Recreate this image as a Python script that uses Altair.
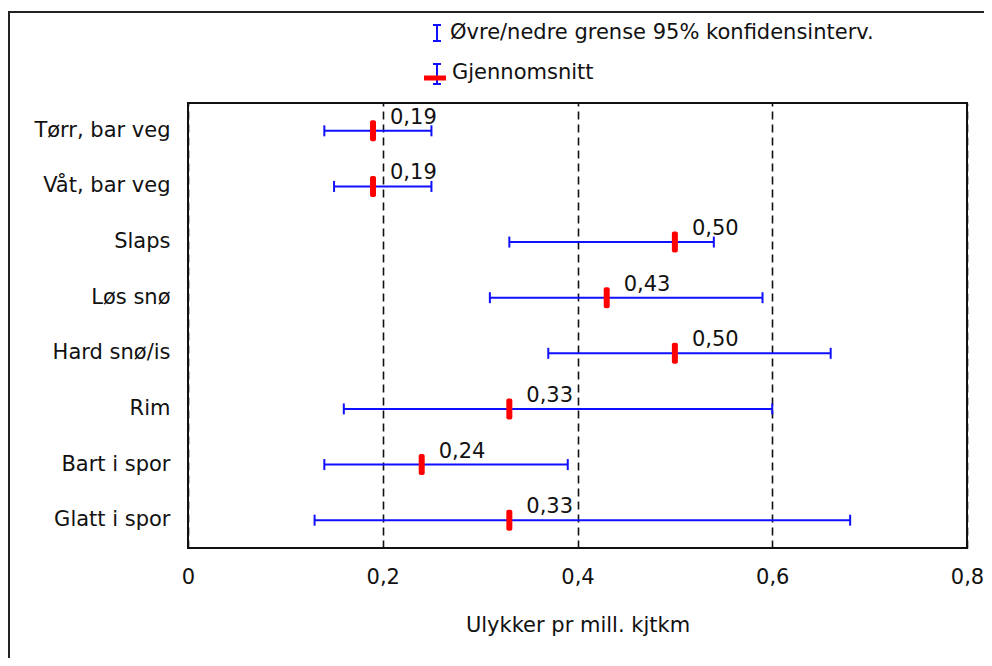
import altair as alt
import pandas as pd

categories = ["Tørr, bar veg", "Våt, bar veg", "Slaps", "Løs snø",
              "Hard snø/is", "Rim", "Bart i spor", "Glatt i spor"]
mean_vals = [0.19, 0.19, 0.50, 0.43, 0.50, 0.33, 0.24, 0.33]
lower_vals = [0.14, 0.15, 0.33, 0.31, 0.37, 0.16, 0.14, 0.13]
upper_vals = [0.25, 0.25, 0.54, 0.59, 0.66, 0.60, 0.39, 0.68]
x_ticks = [0, 0.2, 0.4, 0.6, 0.8]
legend_ci = "Øvre/nedre grense 95% konfidensinterv."
legend_mean = "Gjennomsnitt"
x_title = "Ulykker pr mill. kjtkm"

df = pd.DataFrame({"kategori": categories, "snitt": mean_vals,
                   "nedre": lower_vals, "ovre": upper_vals})
df["etikett"] = [f"{v:.2f}".replace(".", ",") for v in mean_vals]

FONT = "DejaVu Sans"
FS = 21
BLUE = "#1010ff"
RED = "#ff0000"
W, H = 779, 445

yscale = alt.Scale(type="band", paddingInner=0, paddingOuter=0)
xscale = alt.Scale(domain=[0, 0.8], nice=False, zero=False)

y_enc = alt.Y("kategori:N", sort=categories, title=None, scale=yscale,
              axis=alt.Axis(ticks=False, domain=False, labelFont=FONT,
                            labelFontSize=FS, labelColor="#111",
                            labelPadding=18, labelLimit=300))

x_axis = alt.Axis(values=x_ticks,
                  labelExpr="datum.value == 0 ? '0' : replace(format(datum.value, '.1f'), '.', ',')",
                  grid=True, gridDash=[8, 5], gridColor="#111", gridWidth=1.6,
                  ticks=False, domain=False, labelFlush=False,
                  labelFont=FONT, labelFontSize=FS,
                  labelColor="#111", labelPadding=18, title=x_title,
                  titleFont=FONT, titleFontSize=FS, titleFontWeight="normal",
                  titleColor="#111", titlePadding=27)

base = alt.Chart(df)

line = base.mark_rule(color=BLUE, strokeWidth=2, opacity=1).encode(
    y=y_enc,
    x=alt.X("nedre:Q", scale=xscale, axis=x_axis),
    x2="ovre:Q")
cap_lo = base.mark_tick(color=BLUE, size=11, thickness=2, opacity=1).encode(
    y=y_enc, x=alt.X("nedre:Q", scale=xscale))
cap_hi = base.mark_tick(color=BLUE, size=11, thickness=2, opacity=1).encode(
    y=y_enc, x=alt.X("ovre:Q", scale=xscale))
mean_mark = base.mark_tick(color=RED, size=21, thickness=6, cornerRadius=2,
                           opacity=1).encode(
    y=y_enc, x=alt.X("snitt:Q", scale=xscale))
labels = base.mark_text(align="left", baseline="middle", dx=17, dy=-13,
                        font=FONT, fontSize=FS, color="#111").encode(
    y=y_enc, x=alt.X("snitt:Q", scale=xscale), text="etikett:N")

one = pd.DataFrame({"a": [0]})


def rule(x1, x2, y1, y2, color, width):
    return alt.Chart(one).mark_rule(color=color, strokeWidth=width, opacity=1).encode(
        x=alt.value(x1), x2=alt.value(x2), y=alt.value(y1), y2=alt.value(y2))


def label(x, y, txt):
    return alt.Chart(one).mark_text(align="left", baseline="middle", font=FONT,
                                    fontSize=FS, color="#111").encode(
        x=alt.value(x), y=alt.value(y), text=alt.value(txt))


legend_layers = [
    rule(249, 249, -78, -62, BLUE, 2),
    rule(245, 253, -78, -78, BLUE, 2),
    rule(245, 253, -62, -62, BLUE, 2),
    label(262, -70, legend_ci),
    rule(249, 249, -39, -19, BLUE, 2),
    rule(245, 253, -39, -39, BLUE, 2),
    rule(245, 253, -19, -19, BLUE, 2),
    rule(236, 258, -25, -25, RED, 5),
    label(264, -30, legend_mean),
    rule(-179, -179, -92, 560, "#222", 2),
    rule(-180, 800, -91, -91, "#222", 2),
]

chart = alt.layer(line, cap_lo, cap_hi, mean_mark, labels, *legend_layers).properties(
    width=W, height=H,
    autosize=alt.AutoSizeParams(type="none"),
    padding={"left": 180, "top": 95, "right": 17, "bottom": 110},
    background="white",
).configure_view(stroke="#111", strokeWidth=2)

chart.save("out.html", embed_options={"renderer": "svg", "actions": False})
